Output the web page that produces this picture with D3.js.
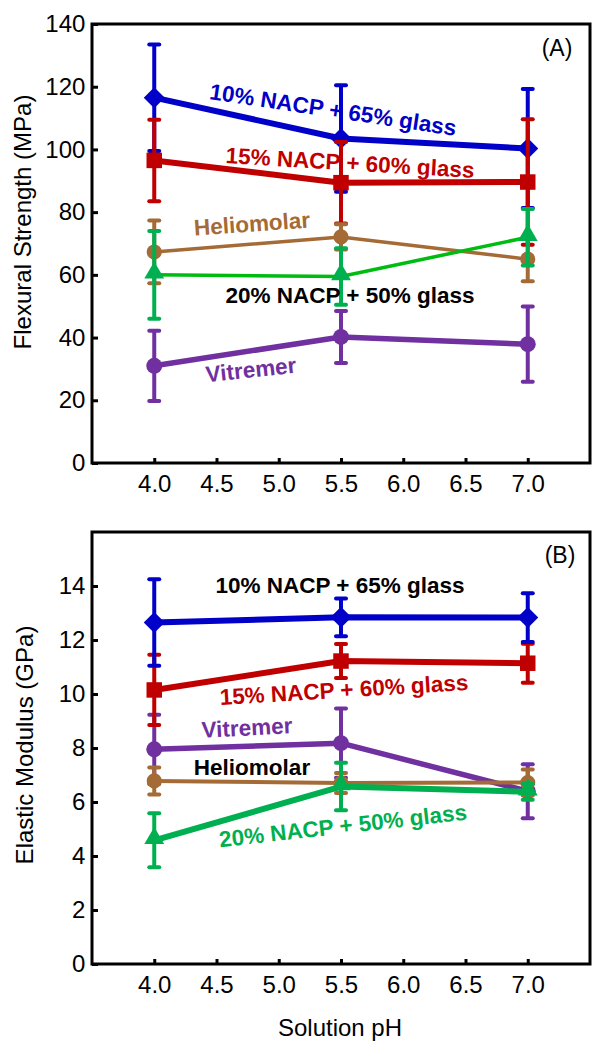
<!DOCTYPE html>
<html><head><meta charset="utf-8">
<script src="https://cdn.jsdelivr.net/npm/d3@7"></script>
<style>
html,body{margin:0;padding:0;background:#fff;}
svg{display:block;font-family:"Liberation Sans",Arial,sans-serif;}
</style></head>
<body>
<svg id="chart" width="609" height="1050"></svg>
<script>
// ---- data ----
const ph = [4.0, 5.5, 7.0];
const xTicks = [4.0, 4.5, 5.0, 5.5, 6.0, 6.5, 7.0];
const fsTicks = [0, 20, 40, 60, 80, 100, 120, 140];
const emTicks = [0, 2, 4, 6, 8, 10, 12, 14];

// Flexural strength (MPa), mean and SD
const fs10 = [116.5, 103.5, 100.3];   const fs10Sd = [17, 17, 19];
const fs15 = [96.5, 89.4, 89.6];      const fs15Sd = [13, 13, 20];
const fsHelio = [67.3, 72.1, 65.0];   const fsHelioSd = [10, 4, 7];
const fs20 = [60, 59.5, 72];          const fs20Sd = [14, 9, 9];
const fsVit = [31, 40.2, 37.9];       const fsVitSd = [11.2, 8.3, 12];

// Elastic modulus (GPa), mean and SD
const em10 = [12.65, 12.84, 12.83];   const em10Sd = [1.6, 0.7, 0.9];
const em15 = [10.15, 11.22, 11.14];   const em15Sd = [1.3, 0.63, 0.72];
const emVit = [7.95, 8.18, 6.4];      const emVitSd = [1.28, 1.28, 1.0];
const emHelio = [6.78, 6.7, 6.72];    const emHelioSd = [0.5, 0.37, 0.48];
const em20 = [4.58, 6.57, 6.38];      const em20Sd = [1.0, 0.88, 0.3];

const C = {blue:"#0000C8", red:"#C00000", brown:"#A46B36", greenA:"#00BB10", green:"#00B050", purple:"#7030A0"};

const svg = d3.select("#chart");
const x = d3.scaleLinear().domain([3.5, 7.5]).range([92, 590]);

function panel(opts) {
  const y = d3.scaleLinear().domain(opts.domain).range(opts.range);
  const g = svg.append("g");
  // frame
  g.append("rect").attr("x", x.range()[0]).attr("y", opts.range[1])
    .attr("width", x.range()[1] - x.range()[0]).attr("height", opts.range[0] - opts.range[1])
    .attr("fill", "none").attr("stroke", "#000").attr("stroke-width", 3);
  // axes
  const ya = g.append("g").attr("transform", `translate(${x.range()[0]},0)`)
    .call(d3.axisLeft(y).tickValues(opts.ticks).tickFormat(d3.format("d")).tickSize(-6).tickPadding(9));
  const xa = g.append("g").attr("transform", `translate(0,${opts.range[0]})`)
    .call(d3.axisBottom(x).tickValues(xTicks).tickFormat(d3.format(".1f")).tickSize(-5).tickPadding(14));
  [ya, xa].forEach(a => {
    a.select(".domain").remove();
    a.selectAll(".tick line").attr("stroke", "#000").attr("stroke-width", 3);
    a.selectAll(".tick text").attr("font-size", 24).attr("fill", "#000")
      .attr("font-family", "'Liberation Sans', Arial, sans-serif");
  });
  ya.selectAll(".tick text").attr("dx", "0.1em");
  xa.selectAll(".tick text").attr("dy", "0.62em");

  const line = d3.line().x((d, i) => x(ph[i])).y(d => y(d));
  opts.series.forEach(s => {
    const sg = g.append("g");
    sg.append("path").datum(s.v).attr("d", line).attr("fill", "none")
      .attr("stroke", s.lineColor || s.color).attr("stroke-width", s.lw).attr("stroke-linejoin", "round");
    // error bars
    s.v.forEach((v, i) => {
      const cx = x(ph[i]);
      const top = y(v + s.sd[i]), bot = y(v - s.sd[i]);
      sg.append("line").attr("x1", cx).attr("x2", cx).attr("y1", top).attr("y2", bot)
        .attr("stroke", s.color).attr("stroke-width", 4);
      [top, bot].forEach(yy => sg.append("line").attr("x1", cx - 5).attr("x2", cx + 5)
        .attr("y1", yy).attr("y2", yy).attr("stroke", s.color).attr("stroke-width", 4).attr("stroke-linecap", "round"));
    });
    // markers
    const sym = d3.symbol().type(s.shape).size(s.size);
    s.v.forEach((v, i) => {
      sg.append("path").attr("d", sym()).attr("fill", s.color)
        .attr("transform", `translate(${x(ph[i])},${y(v)})` + (s.shape === d3.symbolTriangle ? " translate(0,-2)" : ""));
    });
  });

  opts.labels.forEach(l => {
    g.append("text").attr("x", l.x).attr("y", l.y).attr("text-anchor", "middle")
      .attr("dominant-baseline", "central")
      .attr("transform", `rotate(${l.a || 0},${l.x},${l.y})`)
      .attr("font-size", l.fs || 22.5).attr("font-weight", l.w || "bold").attr("fill", l.c).text(l.t);
  });
  return y;
}

panel({
  domain: [0, 140], range: [463, 24], ticks: fsTicks,
  series: [
    {v: fs10, sd: fs10Sd, color: C.blue, lw: 6, shape: d3.symbolDiamond2, size: 280},
    {v: fs15, sd: fs15Sd, color: C.red, lw: 6, shape: d3.symbolSquare, size: 240},
    {v: fsHelio, sd: fsHelioSd, color: C.brown, lw: 3.5, shape: d3.symbolCircle, size: 180},
    {v: fs20, sd: fs20Sd, color: C.green, lineColor: C.greenA, lw: 3.5, shape: d3.symbolTriangle, size: 170},
    {v: fsVit, sd: fsVitSd, color: C.purple, lw: 5.5, shape: d3.symbolCircle, size: 200}
  ],
  labels: [
    {t: "10% NACP + 65% glass", x: 333, y: 110, a: 8.5, c: C.blue},
    {t: "15% NACP + 60% glass", x: 350, y: 163, a: 3.4, c: C.red},
    {t: "Heliomolar", x: 252, y: 224, a: -4, c: C.brown},
    {t: "20% NACP + 50% glass", x: 350, y: 295, a: 0, c: "#000"},
    {t: "Vitremer", x: 251, y: 370, a: -6, c: C.purple},
    {t: "(A)", x: 557, y: 48, c: "#000", w: "normal", fs: 23}
  ]
});

panel({
  domain: [0, 16], range: [964, 532], ticks: emTicks,
  series: [
    {v: emVit, sd: emVitSd, color: C.purple, lw: 5.5, shape: d3.symbolCircle, size: 200},
    {v: emHelio, sd: emHelioSd, color: C.brown, lw: 4, shape: d3.symbolCircle, size: 180},
    {v: em20, sd: em20Sd, color: C.green, lw: 6, shape: d3.symbolTriangle, size: 170},
    {v: em15, sd: em15Sd, color: C.red, lw: 6, shape: d3.symbolSquare, size: 240},
    {v: em10, sd: em10Sd, color: C.blue, lw: 6, shape: d3.symbolDiamond2, size: 280}
  ],
  labels: [
    {t: "10% NACP + 65% glass", x: 340, y: 585, a: 0, c: "#000"},
    {t: "15% NACP + 60% glass", x: 344, y: 690, a: -3.5, c: C.red},
    {t: "Vitremer", x: 247, y: 728, a: -3, c: C.purple},
    {t: "Heliomolar", x: 252, y: 767, a: 0, c: "#000"},
    {t: "20% NACP + 50% glass", x: 343, y: 826, a: -6.4, c: C.green},
    {t: "(B)", x: 560, y: 555, c: "#000", w: "normal", fs: 23}
  ]
});

// axis titles
svg.append("text").attr("transform", "translate(22,222) rotate(-90)").attr("text-anchor", "middle")
  .attr("dominant-baseline", "central").attr("font-size", 24).text("Flexural Strength (MPa)");
svg.append("text").attr("transform", "translate(24,745) rotate(-90)").attr("text-anchor", "middle")
  .attr("dominant-baseline", "central").attr("font-size", 24).text("Elastic Modulus (GPa)");
svg.append("text").attr("x", 340).attr("y", 1027).attr("text-anchor", "middle")
  .attr("dominant-baseline", "central").attr("font-size", 24).text("Solution pH");
</script>
</body></html>
